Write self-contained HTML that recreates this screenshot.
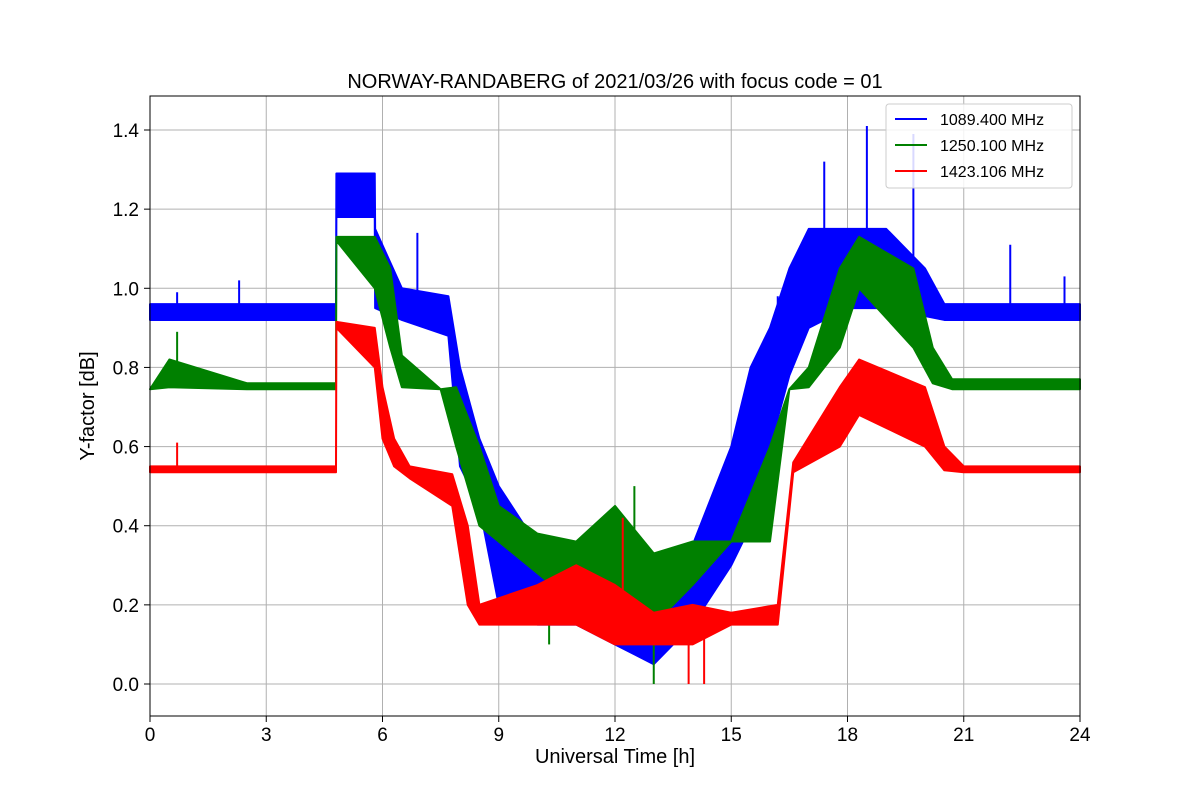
<!DOCTYPE html>
<html><head><meta charset="utf-8"><style>
body{margin:0;background:#fff;}
svg text{font-family:"Liberation Sans","DejaVu Sans",sans-serif;fill:#000;}
</style></head><body>
<svg id="chart" width="1200" height="800" xmlns="http://www.w3.org/2000/svg">
<rect width="1200" height="800" fill="#fff"/>
<g id="grid"></g>
<g id="series"></g>
<rect x="150" y="96" width="930" height="620" fill="none" stroke="#000" stroke-width="1"/>
<g id="axes"></g>
<text x="615" y="88" font-size="20" text-anchor="middle">NORWAY-RANDABERG of 2021/03/26 with focus code = 01</text>
<text x="615" y="763" font-size="20" text-anchor="middle">Universal Time [h]</text>
<text x="94" y="406" font-size="20" text-anchor="middle" transform="rotate(-90 94 406)">Y-factor [dB]</text>
<g>
<rect x="886" y="104" width="186" height="84" rx="3" fill="#fff" fill-opacity="0.85" stroke="#ccc"/>
<g><line x1="895" y1="119" x2="927" y2="119" stroke="#0000ff" stroke-width="2"/><text x="940" y="125" font-size="16">1089.400 MHz</text></g>
<g><line x1="895" y1="145" x2="927" y2="145" stroke="#008000" stroke-width="2"/><text x="940" y="151" font-size="16">1250.100 MHz</text></g>
<g><line x1="895" y1="171" x2="927" y2="171" stroke="#ff0000" stroke-width="2"/><text x="940" y="177" font-size="16">1423.106 MHz</text></g>
</g>
</svg>
<script>
const xTicks=[0,3,6,9,12,15,18,21,24];
const yTicks=[0.0,0.2,0.4,0.6,0.8,1.0,1.2,1.4];
const yTickLabels=["0.0","0.2","0.4","0.6","0.8","1.0","1.2","1.4"];
const blueT=[0,4.8,4.81,5.8,5.81,6.5,7.7,8,8.5,9,10,11,12,13,14,15,15.5,16,16.5,17,18,19,20,20.5,24];
const blueLo=[0.92,0.92,1.18,1.18,0.95,0.92,0.88,0.55,0.45,0.2,0.15,0.15,0.1,0.05,0.15,0.3,0.4,0.6,0.78,0.9,0.95,0.95,0.93,0.92,0.92];
const blueHi=[0.96,0.96,1.29,1.29,1.15,1.0,0.98,0.8,0.62,0.5,0.35,0.35,0.3,0.3,0.35,0.6,0.8,0.9,1.05,1.15,1.15,1.15,1.05,0.96,0.96];
const blueSpikeT=[0.7,2.3,6.9,16.2,17.4,18.5,19.7,22.2,23.6];
const blueSpikeV=[0.99,1.02,1.14,0.98,1.32,1.41,1.39,1.11,1.03];
const greenT=[0,0.5,2.5,4.8,4.81,5.8,6.2,6.5,7.5,7.9,8.5,9,10,11,12,13,14,15,16,16.5,17,17.8,18.3,19.7,20.2,20.7,24];
const greenLo=[0.745,0.75,0.745,0.745,1.12,1.0,0.85,0.75,0.745,0.6,0.4,0.36,0.28,0.2,0.1,0.15,0.25,0.36,0.36,0.745,0.75,0.85,1.0,0.85,0.76,0.745,0.745];
const greenHi=[0.745,0.82,0.76,0.76,1.13,1.13,1.05,0.83,0.745,0.75,0.6,0.45,0.38,0.36,0.45,0.33,0.36,0.36,0.6,0.745,0.8,1.05,1.13,1.05,0.85,0.77,0.77];
const greenSpikeT=[0.7,12.5,13.0,10.3];
const greenSpikeV=[0.89,0.5,0.0,0.1];
const redT=[0,4.8,4.81,5.8,6,6.3,6.7,7.8,8.2,8.5,10,11,12,13,14,15,16.2,16.6,17.8,18.3,20,20.5,21,24];
const redLo=[0.535,0.535,0.9,0.8,0.62,0.55,0.52,0.45,0.2,0.15,0.15,0.15,0.1,0.1,0.1,0.15,0.15,0.535,0.6,0.68,0.6,0.54,0.535,0.535];
const redHi=[0.55,0.55,0.915,0.9,0.75,0.62,0.55,0.53,0.4,0.2,0.25,0.3,0.25,0.18,0.2,0.18,0.2,0.56,0.75,0.82,0.75,0.6,0.55,0.55];
const redSpikeT=[0.7,12.2,14.3,13.9];
const redSpikeV=[0.61,0.42,0.0,0.0];
const NS="http://www.w3.org/2000/svg";
const x=t=>150+t*(930/24);
const y=v=>684-v*(554/1.4);
const grid=document.getElementById('grid'),axes=document.getElementById('axes'),ser=document.getElementById('series');
function mk(tag,attrs,parent){const e=document.createElementNS(NS,tag);for(const k in attrs)e.setAttribute(k,attrs[k]);parent.appendChild(e);return e;}
xTicks.forEach(t=>{
 const g=mk('line',{x1:x(t),x2:x(t),y1:96,y2:716,stroke:'#b0b0b0','stroke-width':1},grid);
 
 
 const tk=mk('line',{x1:x(t),x2:x(t),y1:716,y2:722,stroke:'#000'},axes);
 
 
 const tx=mk('text',{x:x(t),y:741,'font-size':19,'text-anchor':'middle'},axes);
 tx.textContent=t;
 
 
});
yTicks.forEach((v,i)=>{
 const g=mk('line',{x1:150,x2:1080,y1:y(v),y2:y(v),stroke:'#b0b0b0','stroke-width':1},grid);
 
 
 const tk=mk('line',{x1:144,x2:150,y1:y(v),y2:y(v),stroke:'#000'},axes);
 
 
 const tx=mk('text',{x:139,y:y(v)+7,'font-size':19,'text-anchor':'end'},axes);
 tx.textContent=yTickLabels[i];
 
 
});
function band(T,lo,hi,sT,sV,col,name){
 let pts=T.map((t,i)=>x(t)+','+y(hi[i]));
 for(let i=T.length-1;i>=0;i--)pts.push(x(T[i])+','+y(lo[i]));
 const p=mk('polygon',{points:pts.join(' '),fill:col,stroke:col,'stroke-width':2,'stroke-linejoin':'round'},ser);
 
 
 sT.forEach((t,i)=>{
  let j=0;while(j<T.length-2&&T[j+1]<t)j++;
  const f=(t-T[j])/(T[j+1]-T[j]);const base=lo[j]+(lo[j+1]-lo[j])*f;
  const s=mk('line',{x1:x(t),x2:x(t),y1:y(base),y2:y(sV[i]),stroke:col,'stroke-width':2},ser);
  
  
 });
}
band(blueT,blueLo,blueHi,blueSpikeT,blueSpikeV,'#0000ff','series-1089mhz');
band(greenT,greenLo,greenHi,greenSpikeT,greenSpikeV,'#008000','series-1250mhz');
band(redT,redLo,redHi,redSpikeT,redSpikeV,'#ff0000','series-1423mhz');
</script>
</body></html>
